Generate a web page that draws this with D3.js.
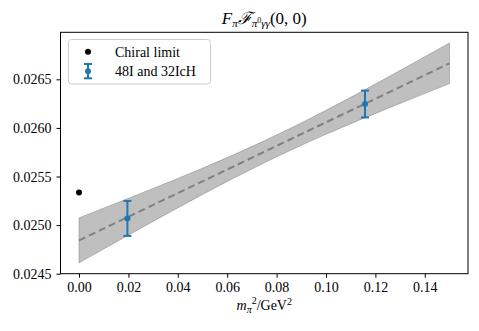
<!DOCTYPE html>
<html>
<head>
<meta charset="utf-8">
<script src="https://cdn.jsdelivr.net/npm/d3@7"></script>
<style>
  body { margin: 0; background: #fff; }
  svg text { font-family: "Liberation Serif", "DejaVu Serif", serif; fill: #000; }
</style>
</head>
<body>
<svg id="chart" width="479" height="331"></svg>
<script>
// data
const chiralX = [0.0];
const chiralY = [0.025335];

const pointX = [0.0196, 0.1158];
const pointY = [0.025069, 0.026246];
const pointErr = [0.000180, 0.000138];

const fitX = [0.0, 0.025, 0.05, 0.075, 0.1, 0.125, 0.15];
const fitY = [0.024843, 0.025147, 0.025450, 0.025754, 0.026058, 0.026361, 0.026665];
const fitLo = [0.024612, 0.024968, 0.025315, 0.025641, 0.025935, 0.026201, 0.026456];
const fitHi = [0.025074, 0.025326, 0.025585, 0.025867, 0.026181, 0.026521, 0.026874];

const xTicks = [0.00, 0.02, 0.04, 0.06, 0.08, 0.10, 0.12, 0.14];
const yTicks = [0.0245, 0.0250, 0.0255, 0.0260, 0.0265];

const svg = d3.select("#chart");
const plotLeft = 60.5, plotRight = 468, plotTop = 32.3, plotBottom = 273.7;
const blue = "#1f77b4";

const xScale = d3.scaleLinear().domain([-0.0075, 0.1575]).range([plotLeft, plotRight]);
const yScale = d3.scaleLinear().domain([0.0245, 0.026984]).range([plotBottom, plotTop]);

// band
const band = fitX.map((x, i) => ({ x: x, lo: fitLo[i], hi: fitHi[i] }));
svg.append("path")
  .datum(band)
  .attr("d", d3.area().curve(d3.curveNatural).x(d => xScale(d.x)).y0(d => yScale(d.lo)).y1(d => yScale(d.hi)))
  .attr("fill", "#808080")
  .attr("fill-opacity", 0.5)
  .attr("stroke", "#808080")
  .attr("stroke-opacity", 0.5)
  .attr("stroke-width", 1);

// fit line
svg.append("path")
  .datum(fitX.map((x, i) => [x, fitY[i]]))
  .attr("d", d3.line().x(d => xScale(d[0])).y(d => yScale(d[1])))
  .attr("fill", "none")
  .attr("stroke", "#808080")
  .attr("stroke-width", 2)
  .attr("stroke-dasharray", "7,4");

// chiral limit
svg.selectAll(".chiral")
  .data(chiralX.map((x, i) => [x, chiralY[i]]))
  .enter().append("circle")
  .attr("cx", d => xScale(d[0]))
  .attr("cy", d => yScale(d[1]))
  .attr("r", 3)
  .attr("fill", "#000");

// error bars
const pts = pointX.map((x, i) => ({ x: x, y: pointY[i], e: pointErr[i] }));
const eb = svg.selectAll(".eb").data(pts).enter().append("g");
eb.append("line")
  .attr("x1", d => xScale(d.x)).attr("x2", d => xScale(d.x))
  .attr("y1", d => yScale(d.y - d.e)).attr("y2", d => yScale(d.y + d.e))
  .attr("stroke", blue).attr("stroke-width", 2);
[-1, 1].forEach(s => {
  eb.append("line")
    .attr("x1", d => xScale(d.x) - 4).attr("x2", d => xScale(d.x) + 4)
    .attr("y1", d => yScale(d.y + s * d.e)).attr("y2", d => yScale(d.y + s * d.e))
    .attr("stroke", blue).attr("stroke-width", 2);
});
eb.append("circle")
  .attr("cx", d => xScale(d.x)).attr("cy", d => yScale(d.y))
  .attr("r", 3).attr("fill", blue);

// axes
const xAxis = d3.axisBottom(xScale).tickValues(xTicks).tickFormat(d3.format(".2f")).tickSize(4).tickPadding(4);
const yAxis = d3.axisLeft(yScale).tickValues(yTicks).tickFormat(d3.format(".4f")).tickSize(4).tickPadding(5);

const gx = svg.append("g").attr("transform", `translate(0,${plotBottom})`).call(xAxis);
const gy = svg.append("g").attr("transform", `translate(${plotLeft},0)`).call(yAxis);
[gx, gy].forEach(g => {
  g.select(".domain").remove();
  g.selectAll("line").attr("stroke", "#000").attr("stroke-width", 1);
  g.selectAll("text").attr("font-size", 14).attr("font-family", "Liberation Serif").attr("fill", "#000");
});

// frame
svg.append("rect")
  .attr("x", plotLeft).attr("y", plotTop)
  .attr("width", plotRight - plotLeft).attr("height", plotBottom - plotTop)
  .attr("fill", "none").attr("stroke", "#000").attr("stroke-width", 1);

// title
const title = svg.append("text")
  .attr("x", (plotLeft + plotRight) / 2).attr("y", 24)
  .attr("text-anchor", "middle").attr("font-size", 17);
title.append("tspan").attr("font-style", "italic").text("F");
title.append("tspan").attr("font-style", "italic").attr("font-size", 11).attr("dy", 3).text("π");
title.append("tspan").attr("font-style", "italic").attr("dy", -3).text("ℱ");
title.append("tspan").attr("font-style", "italic").attr("font-size", 11).attr("dy", 3).text("π");
title.append("tspan").attr("font-size", 8).attr("dy", -4).text("0");
title.append("tspan").attr("font-style", "italic").attr("font-size", 11).attr("dy", 4).text("γγ");
title.append("tspan").attr("dy", -3).text("(0, 0)");

// x label
const xl = svg.append("text")
  .attr("x", (plotLeft + plotRight) / 2).attr("y", 310)
  .attr("text-anchor", "middle").attr("font-size", 14);
xl.append("tspan").attr("font-style", "italic").text("m");
xl.append("tspan").attr("font-style", "italic").attr("font-size", 10).attr("dy", 3).text("π");
xl.append("tspan").attr("font-size", 10).attr("dy", -9).text("2");
xl.append("tspan").attr("dy", 6).text("/GeV");
xl.append("tspan").attr("font-size", 10).attr("dy", -5).text("2");

// legend
const lg = svg.append("g");
lg.append("rect")
  .attr("x", 68.5).attr("y", 39.5).attr("width", 142).attr("height", 44.5)
  .attr("rx", 3).attr("fill", "#fff").attr("fill-opacity", 0.8)
  .attr("stroke", "#cccccc").attr("stroke-width", 1);
lg.append("circle").attr("cx", 88).attr("cy", 51.7).attr("r", 3).attr("fill", "#000");
lg.append("text").attr("x", 115).attr("y", 56.5).attr("font-size", 14).text("Chiral limit");
lg.append("line").attr("x1", 88).attr("x2", 88).attr("y1", 64).attr("y2", 78.3).attr("stroke", blue).attr("stroke-width", 2);
lg.append("line").attr("x1", 84).attr("x2", 92).attr("y1", 64).attr("y2", 64).attr("stroke", blue).attr("stroke-width", 2);
lg.append("line").attr("x1", 84).attr("x2", 92).attr("y1", 78.3).attr("y2", 78.3).attr("stroke", blue).attr("stroke-width", 2);
lg.append("circle").attr("cx", 88).attr("cy", 71.2).attr("r", 3).attr("fill", blue);
lg.append("text").attr("x", 115).attr("y", 76).attr("font-size", 14).text("48I and 32IcH");
</script>
</body>
</html>
